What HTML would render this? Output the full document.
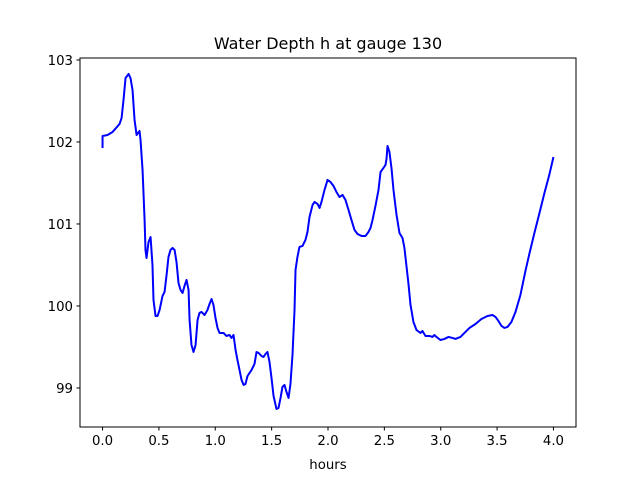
<!DOCTYPE html>
<html><head><meta charset="utf-8"><style>
html,body{margin:0;padding:0;background:#fff;}
svg{display:block;font-family:"DejaVu Sans","Liberation Sans",sans-serif;}
</style></head><body>
<svg id="chart" width="640" height="480" viewBox="0 0 640 480">
<rect x="0" y="0" width="640" height="480" fill="#fff"/>
<text x="328" y="49" text-anchor="middle" font-size="16" fill="#000">Water Depth h at gauge 130</text>
<g id="xticks"></g>
<g id="yticks"></g>
<path id="line" fill="none" stroke="#0000ff" stroke-width="2" stroke-linejoin="round"/>
<rect x="80" y="58" width="496" height="369" fill="none" stroke="#000" stroke-width="1"/>
<text x="328" y="469" text-anchor="middle" font-size="13.3" fill="#000">hours</text>
</svg>
<script>
const hours = [0,0,0.044,0.089,0.151,0.169,0.186,0.204,0.231,0.248,0.266,0.284,0.302,0.328,0.337,0.355,0.373,0.381,0.390,0.408,0.426,0.443,0.452,0.470,0.488,0.506,0.532,0.550,0.568,0.585,0.603,0.621,0.639,0.656,0.674,0.692,0.710,0.727,0.745,0.763,0.772,0.789,0.807,0.825,0.843,0.860,0.878,0.905,0.931,0.949,0.967,0.984,1.002,1.020,1.038,1.073,1.100,1.126,1.144,1.162,1.180,1.197,1.215,1.233,1.251,1.268,1.286,1.322,1.348,1.366,1.384,1.410,1.428,1.446,1.463,1.481,1.499,1.517,1.543,1.561,1.579,1.596,1.614,1.632,1.650,1.667,1.685,1.703,1.712,1.729,1.747,1.774,1.800,1.818,1.836,1.863,1.880,1.907,1.925,1.942,1.969,1.996,2.022,2.049,2.075,2.102,2.129,2.155,2.182,2.208,2.235,2.262,2.297,2.333,2.359,2.377,2.395,2.421,2.448,2.466,2.492,2.510,2.519,2.528,2.545,2.563,2.581,2.608,2.634,2.661,2.678,2.696,2.714,2.732,2.758,2.785,2.820,2.838,2.865,2.900,2.927,2.944,2.962,2.998,3.033,3.069,3.104,3.131,3.175,3.228,3.255,3.308,3.361,3.415,3.459,3.486,3.512,3.539,3.565,3.592,3.627,3.663,3.707,3.752,3.787,3.831,3.876,3.920,3.965,4.000];
const depth = [101.927,102.073,102.085,102.122,102.220,102.293,102.512,102.780,102.829,102.780,102.634,102.268,102.085,102.134,102.024,101.659,101.049,100.683,100.585,100.780,100.841,100.500,100.073,99.878,99.878,99.951,100.122,100.171,100.378,100.598,100.683,100.707,100.683,100.537,100.280,100.195,100.159,100.244,100.317,100.195,99.829,99.524,99.439,99.524,99.829,99.915,99.927,99.890,99.951,100.024,100.085,100.012,99.854,99.732,99.671,99.671,99.634,99.646,99.610,99.646,99.463,99.341,99.220,99.098,99.037,99.049,99.146,99.220,99.293,99.439,99.427,99.390,99.378,99.415,99.439,99.317,99.122,98.902,98.744,98.756,98.878,99.012,99.037,98.951,98.878,99.049,99.402,99.951,100.439,100.598,100.720,100.732,100.805,100.902,101.085,101.232,101.268,101.244,101.195,101.268,101.415,101.537,101.512,101.463,101.390,101.329,101.354,101.293,101.171,101.049,100.927,100.878,100.854,100.854,100.902,100.951,101.049,101.220,101.415,101.634,101.683,101.720,101.793,101.951,101.878,101.683,101.415,101.110,100.890,100.829,100.707,100.488,100.268,100.012,99.805,99.707,99.671,99.695,99.634,99.634,99.622,99.646,99.622,99.585,99.598,99.622,99.610,99.598,99.622,99.695,99.732,99.780,99.841,99.878,99.890,99.866,99.817,99.756,99.732,99.744,99.805,99.927,100.134,100.430,100.640,100.890,101.134,101.378,101.610,101.817];
const xTickValues = [0,0.5,1,1.5,2,2.5,3,3.5,4];
const xTickLabels = ["0.0","0.5","1.0","1.5","2.0","2.5","3.0","3.5","4.0"];
const yTickValues = [99,100,101,102,103];
const yTickLabels = ["99","100","101","102","103"];

const L=80,R=576,T=58,B=427;
const xMin=-0.2,xMax=4.2,yMin=98.524,yMax=103.024;
function sx(v){return L+(v-xMin)/(xMax-xMin)*(R-L);}
function sy(v){return B-(v-yMin)/(yMax-yMin)*(B-T);}
const NS="http://www.w3.org/2000/svg";

let d="";
for(let i=0;i<hours.length;i++){d+=(i?"L":"M")+sx(hours[i]).toFixed(2)+","+sy(depth[i]).toFixed(2);}
document.getElementById("line").setAttribute("d",d);

const xg=document.getElementById("xticks");
xTickValues.forEach((v,i)=>{
  const x=sx(v);
  const t=document.createElementNS(NS,"line");
  t.setAttribute("x1",x);t.setAttribute("x2",x);t.setAttribute("y1",B);t.setAttribute("y2",B+3.5);
  t.setAttribute("stroke","#000");
  
  
  xg.appendChild(t);
  const s=document.createElementNS(NS,"text");
  s.setAttribute("x",x);s.setAttribute("y",B+18);s.setAttribute("text-anchor","middle");s.setAttribute("font-size","13.3");
  s.textContent=xTickLabels[i];
  
  
  xg.appendChild(s);
});
const yg=document.getElementById("yticks");
yTickValues.forEach((v,i)=>{
  const y=sy(v);
  const t=document.createElementNS(NS,"line");
  t.setAttribute("x1",L-3.5);t.setAttribute("x2",L);t.setAttribute("y1",y);t.setAttribute("y2",y);
  t.setAttribute("stroke","#000");
  
  
  yg.appendChild(t);
  const s=document.createElementNS(NS,"text");
  s.setAttribute("x",L-7);s.setAttribute("y",y+5);s.setAttribute("text-anchor","end");s.setAttribute("font-size","13.3");
  s.textContent=yTickLabels[i];
  
  
  yg.appendChild(s);
});
</script>
</body></html>
